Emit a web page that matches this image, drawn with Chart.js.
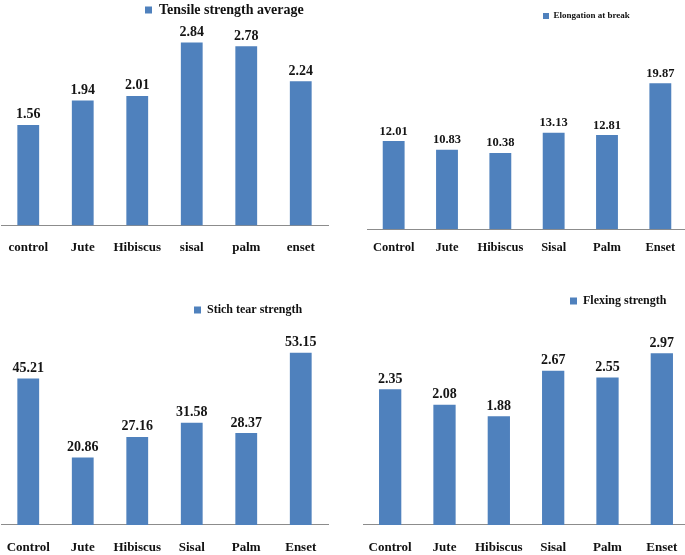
<!DOCTYPE html>
<html>
<head>
<meta charset="utf-8">
<script src="https://cdn.jsdelivr.net/npm/chart.js@4/dist/chart.umd.min.js"></script>
<style>
  html, body { margin: 0; padding: 0; background: #fff; overflow: hidden; }
  #page { position: relative; width: 685px; height: 555px; overflow: hidden; }
  .panel { position: absolute; }
</style>
</head>
<body>
<div id="page">
  <div class="panel" style="left:0;top:0;width:340px;height:270px"><canvas id="tensile-chart"></canvas></div>
  <div class="panel" style="left:340px;top:0;width:350px;height:270px"><canvas id="elongation-chart"></canvas></div>
  <div class="panel" style="left:0;top:280px;width:340px;height:295px"><canvas id="stitch-chart"></canvas></div>
  <div class="panel" style="left:340px;top:280px;width:350px;height:295px"><canvas id="flexing-chart"></canvas></div>
</div>
<script>
// data
const tensileLabels = ['control', 'Jute', 'Hibiscus', 'sisal', 'palm', 'enset'];
const fibreLabels = ['Control', 'Jute', 'Hibiscus', 'Sisal', 'Palm', 'Enset'];
const tensileValues = [1.56, 1.94, 2.01, 2.84, 2.78, 2.24];
const elongationValues = [12.01, 10.83, 10.38, 13.13, 12.81, 19.87];
const stitchTearValues = [45.21, 20.86, 27.16, 31.58, 28.37, 53.15];
const flexingValues = [2.35, 2.08, 1.88, 2.67, 2.55, 2.97];

const BAR_BLUE = '#4f81bd';
const SERIF = "'Liberation Serif', 'Times New Roman', serif";

// puts the legend item where the original figure has it
// (the whole box is moved, since the legend clips to its own box)
const legendSpot = {
    id: 'legendSpot',
    afterLayout(chart, args, opts) {
        const legend = chart.legend;
        if (!legend) return;
        const lab = legend.options.labels;
        const fs = lab.font.size;
        const itemH = Math.max(fs, lab.boxHeight || fs);
        const dx = opts.x - lab.padding - legend.left;
        const dy = opts.y - itemH / 2 - lab.padding - legend.top;
        legend.left += dx;
        legend.right += dx;
        legend.top += dy;
        legend.bottom += dy;
    }
};

// value printed over every bar
const barValues = {
    id: 'barValues',
    afterDatasetsDraw(chart, args, opts) {
        const ctx = chart.ctx;
        ctx.save();
        ctx.font = 'bold ' + opts.size + 'px ' + SERIF;
        ctx.fillStyle = '#151515';
        ctx.textAlign = 'center';
        ctx.textBaseline = 'alphabetic';
        chart.data.datasets.forEach((ds, i) => {
            chart.getDatasetMeta(i).data.forEach((bar, j) => {
                ctx.fillText(ds.data[j].toFixed(2), bar.x, bar.y - 6.5);
            });
        });
        ctx.restore();
    }
};

function makeChart(id, cfg) {
    const canvas = document.getElementById(id);
    return new Chart(canvas.getContext('2d'), {
        type: 'bar',
        data: {
            labels: cfg.labels,
            datasets: [{
                label: cfg.name,
                data: cfg.values,
                backgroundColor: BAR_BLUE,
                borderWidth: 0,
                categoryPercentage: 1,
                barPercentage: cfg.barPct
            }]
        },
        plugins: [legendSpot, barValues],
        options: {
            responsive: true,
            maintainAspectRatio: false,
            animation: false,
            layout: { padding: cfg.padding },
            plugins: {
                legend: {
                    display: true,
                    position: 'top',
                    align: 'start',
                    labels: {
                        color: '#111',
                        font: { family: SERIF, size: cfg.legendFont, weight: 'bold' },
                        boxWidth: cfg.box,
                        boxHeight: cfg.box,
                        padding: 4
                    }
                },
                tooltip: { enabled: false },
                legendSpot: cfg.legendAt,
                barValues: { size: cfg.valueFont }
            },
            scales: {
                x: {
                    // invisible tick marks keep the gap under the axis line
                    grid: { display: false, drawTicks: true, tickLength: cfg.tickGap },
                    border: { display: true, color: '#8c8c8c', width: 1 },
                    ticks: {
                        color: '#111',
                        padding: 1,
                        autoSkip: false,
                        maxRotation: 0,
                        minRotation: 0,
                        font: { family: SERIF, size: cfg.tickFont, weight: 'bold' }
                    }
                },
                y: {
                    display: false,
                    min: 0,
                    max: cfg.yMax
                }
            }
        }
    });
}

makeChart('tensile-chart', {
    labels: tensileLabels, values: tensileValues, name: 'Tensile strength average',
    barPct: 0.4, yMax: 3.065, tickGap: 13.5, tickFont: 13, legendFont: 14, box: 7, valueFont: 14,
    padding: { left: 1, right: 12, top: 0, bottom: 13.5 },
    legendAt: { x: 145, y: 10 }
});

makeChart('elongation-chart', {
    labels: fibreLabels, values: elongationValues, name: 'Elongation at break',
    barPct: 0.41, yMax: 28.06, tickGap: 9.5, tickFont: 12.5, legendFont: 9, box: 6, valueFont: 12.5,
    padding: { left: 27, right: 3, top: 0, bottom: 14.2 },
    legendAt: { x: 203, y: 16 }
});

makeChart('stitch-chart', {
    labels: fibreLabels, values: stitchTearValues, name: 'Stich tear strength',
    barPct: 0.4, yMax: 67.63, tickGap: 14, tickFont: 13, legendFont: 12, box: 7, valueFont: 14,
    padding: { left: 1, right: 12, top: 0, bottom: 18.5 },
    legendAt: { x: 194, y: 30 }
});

makeChart('flexing-chart', {
    labels: fibreLabels, values: flexingValues, name: 'Flexing strength',
    barPct: 0.41, yMax: 3.79, tickGap: 14, tickFont: 13, legendFont: 12, box: 7, valueFont: 14,
    padding: { left: 23, right: 1, top: 0, bottom: 18.5 },
    legendAt: { x: 230, y: 21 }
});
</script>
</body>
</html>
